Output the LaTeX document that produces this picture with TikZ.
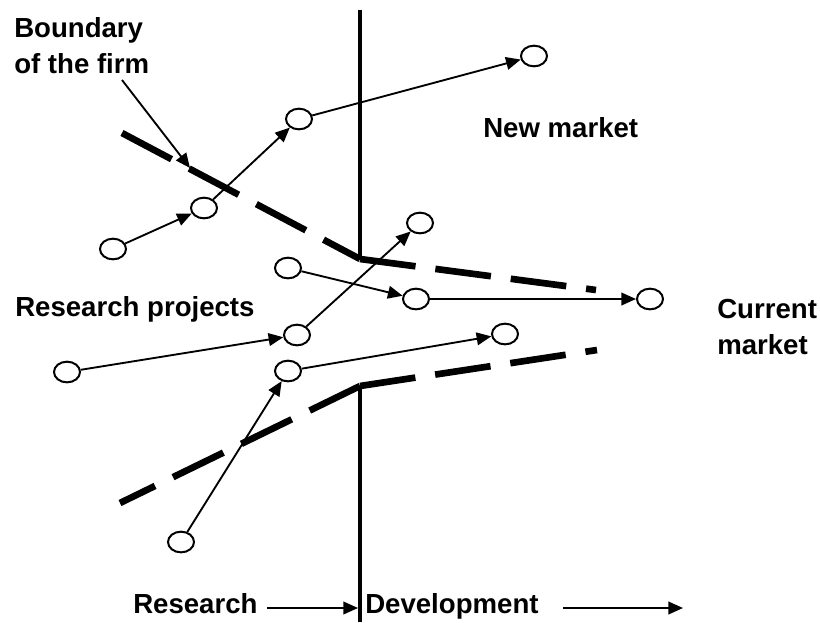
\documentclass[tikz,border=0pt]{standalone}
\usepackage{fontspec}
\setmainfont{Liberation Sans}
\usetikzlibrary{arrows.meta,shapes.geometric}

\begin{document}
\begin{tikzpicture}[x=0.75pt,y=-0.75pt]
  % Styles
  \tikzstyle{project}=[draw,fill=white,ellipse,line width=1.5pt,inner sep=0pt,
    minimum width=19.5pt,minimum height=15.5pt]
  \tikzstyle{flow}=[line width=1.4pt,-{Triangle[length=11pt,width=9.5pt]}]
  \tikzstyle{boundary line}=[line width=5pt,dash pattern=on 42pt off 15pt]
  \tikzstyle{divider}=[line width=2.6pt]
  \tikzstyle{label text}=[font=\fontsize{20.7}{27}\selectfont\bfseries,
    inner sep=0pt,align=left,anchor=base west]

  \useasboundingbox (0,0) rectangle (820,622);

  % Research / development divide
  \draw[style=divider] (360,10) -- (360,260);
  \draw[style=divider] (360,386) -- (360,622);

  % Boundary of the firm
  \coordinate (up) at (360,259);
  \coordinate (low) at (360,386);
  \draw[style=boundary line] (122,133) -- (up);
  \draw[style=boundary line] (up) -- (596,290);
  \draw[style=boundary line] (low) -- (120,503);
  \draw[style=boundary line] (low) -- (597,350);

  % Projects
  \node[project] (a1) at (113,249) {};
  \node[project] (a2) at (204,208) {};
  \node[project] (a3) at (299,119) {};
  \node[project] (a4) at (534,56) {};

  \node[project] (b1) at (288,268) {};
  \node[project] (b2) at (416,299) {};
  \node[project] (b3) at (650,299) {};

  \node[project] (c1) at (67,372) {};
  \node[project] (c2) at (297,335) {};
  \node[project] (c3) at (420,223) {};

  \node[project] (d1) at (181,542) {};
  \node[project] (d2) at (288,371) {};
  \node[project] (d3) at (505,334) {};

  \foreach \from/\to in {a1/a2, a2/a3, a3/a4, b1/b2, b2/b3,
                         c1/c2, c2/c3, d1/d2, d2/d3}
    \draw[style=flow] (\from) -- (\to);

  % Labels
  \node[style=label text] (firm) at (14,73) {Boundary\\of the firm};
  \node[style=label text] (new) at (483,137) {New market};
  \node[style=label text] (projects) at (15,316) {Research projects};
  \node[style=label text] (current) at (717,354) {Current\\market};
  \node[style=label text] (research) at (133,613) {Research};
  \node[style=label text] (devel) at (365,613) {Development};

  \coordinate (bstart) at (122,80);
  \coordinate (bend) at (190,168);
  \draw[style=flow] (bstart) -- (bend);

  \coordinate (rstart) at (267,608);
  \coordinate (rtip) at (358,608);
  \coordinate (dstart) at (563,608);
  \coordinate (dtip) at (683,608);
  \draw[style=flow] (rstart) -- (rtip);
  \draw[style=flow] (dstart) -- (dtip);
\end{tikzpicture}
\end{document}
